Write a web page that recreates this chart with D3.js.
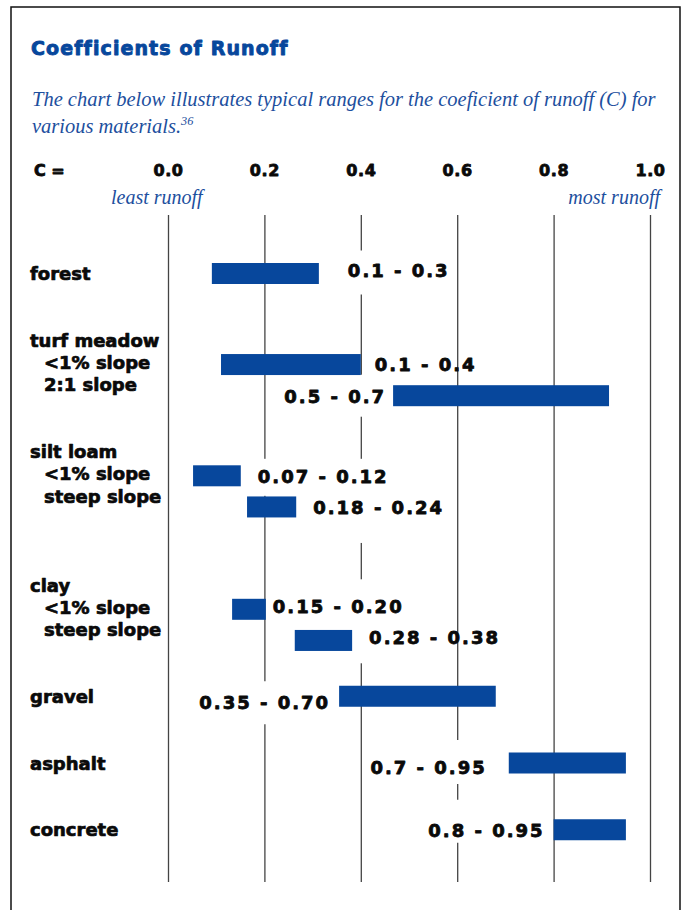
<!DOCTYPE html>
<html>
<head>
<meta charset="utf-8">
<script src="https://cdn.jsdelivr.net/npm/d3@7"></script>
<style>
  body { margin: 0; background: #fff; }
  svg { display: block; }
  .heavy { font-family: 'DejaVu Sans', sans-serif; font-weight: bold; stroke-linejoin: round; }
</style>
</head>
<body>
<svg id="chart" width="685" height="910"></svg>
<script>
// Chart data
var groups = ["forest", "turf meadow", "silt loam", "clay", "gravel", "asphalt", "concrete"];
var subLabels = [[], ["<1% slope", "2:1 slope"], ["<1% slope", "steep slope"], ["<1% slope", "steep slope"], [], [], []];
var barGroup = [0, 1, 1, 2, 2, 3, 3, 4, 5, 6];
var barSub = [-1, 0, 1, 0, 1, 0, 1, -1, -1, -1];
var barLow = [0.091, 0.11, 0.467, 0.052, 0.164, 0.133, 0.263, 0.355, 0.707, 0.80];
var barHigh = [0.313, 0.40, 0.915, 0.151, 0.266, 0.203, 0.382, 0.68, 0.95, 0.95];
var barLabels = ["0.1 - 0.3", "0.1 - 0.4", "0.5 - 0.7", "0.07 - 0.12", "0.18 - 0.24", "0.15 - 0.20", "0.28 - 0.38", "0.35 - 0.70", "0.7 - 0.95", "0.8 - 0.95"];
var tickValues = [0, 0.2, 0.4, 0.6, 0.8, 1.0];
var tickLabels = ["0.0", "0.2", "0.4", "0.6", "0.8", "1.0"];

// Layout (line slots, label placement, white boxes behind labels)
var groupLine = [0, 3, 8, 14, 19, 22, 25];
var subLine = [0.8, 2.2];
var labelSide = ["right", "right", "left", "right", "right", "right", "right", "left", "left", "left"];
var labelGap = [29, 14, 9, 17, 17, 7, 17, 11, 24, 11];
var labelDy = [-3, 0, 1, 1, 1, -2, -2, 7, 5, 1];
var maskPad = [[26, 18], null, [28, 14], [24, 13], [27, 29], [34, 50], null, [28, 15], [34, 10], [37, 6]];

var blue = "#07479c";
var ink = "#0a0a0a";
var serif = "'Liberation Serif', 'DejaVu Serif', serif";

var svg = d3.select("#chart");

// Frame
svg.append("path")
    .attr("d", "M11,910V7H680V910")
    .attr("fill", "none")
    .attr("stroke", "#111")
    .attr("stroke-width", 1.5);

// Title
svg.append("text")
    .attr("class", "heavy")
    .attr("x", 31).attr("y", 55)
    .attr("fill", blue).attr("stroke", blue).attr("stroke-width", 0.9)
    .style("font-size", "19px").style("letter-spacing", "1.1px")
    .text("Coefficients of Runoff");

// Subtitle, sized so the first line spans the box
var sub = svg.append("text")
    .attr("fill", "#1d4f9e")
    .style("font-family", serif).style("font-style", "italic")
    .style("font-size", "20px");
var line1 = sub.append("tspan").attr("x", 32).attr("y", 106)
    .text("The chart below illustrates typical ranges for the coeficient of runoff  (C) for");
var fs = 20 * 624 / line1.node().getComputedTextLength();
sub.style("font-size", fs + "px");
sub.append("tspan").attr("x", 32).attr("y", 133).text("various materials.");
sub.append("tspan").attr("dy", -8).style("font-size", (fs * 0.6) + "px").text("36");

// Scales
var x = d3.scaleLinear().domain([0, 1]).range([168, 650]);
var yLine = d3.scaleLinear().domain([0, 1]).range([280, 302.25]);

function barCenter(i) {
    var g = groupLine[barGroup[i]];
    return barSub[i] < 0 ? yLine(g) - 6.5 : yLine(g + subLine[barSub[i]]);
}

// Axis labels
svg.append("text")
    .attr("class", "heavy")
    .attr("x", 34).attr("y", 176)
    .attr("fill", ink).attr("stroke", ink).attr("stroke-width", 0.8)
    .style("font-size", "16px")
    .text("C =");

var tickAxis = svg.append("g")
    .attr("transform", "translate(0,176)")
    .call(d3.axisTop(x).tickValues(tickValues).tickSize(0).tickPadding(0)
        .tickFormat(function (d, i) { return tickLabels[i]; }));
tickAxis.select(".domain").remove();
tickAxis.selectAll("text")
    .attr("class", "heavy")
    .attr("fill", ink).attr("stroke", ink).attr("stroke-width", 0.8)
    .style("font-size", "16px").style("letter-spacing", "0.6px");

svg.append("text")
    .attr("x", 111).attr("y", 204)
    .attr("fill", "#1d4f9e")
    .style("font-family", serif).style("font-style", "italic").style("font-size", "20px")
    .text("least runoff");
svg.append("text")
    .attr("x", 660).attr("y", 204)
    .attr("text-anchor", "end")
    .attr("fill", "#1d4f9e")
    .style("font-family", serif).style("font-style", "italic").style("font-size", "20px")
    .text("most runoff");

// Grid lines
var grid = svg.append("g")
    .attr("transform", "translate(0,215)")
    .call(d3.axisBottom(x).tickValues(tickValues).tickSize(667).tickFormat(""));
grid.select(".domain").remove();
grid.selectAll("line").attr("stroke", "#444").attr("stroke-width", 1.3);

var maskG = svg.append("g");
var barG = svg.append("g");
var labelG = svg.append("g");

// Category labels
var groupG = labelG.selectAll(".group")
    .data(groups)
    .enter().append("g")
    .attr("class", "group");
groupG.append("text")
    .attr("class", "heavy")
    .attr("x", 30)
    .attr("y", function (d, i) { return yLine(groupLine[i]); })
    .attr("fill", ink).attr("stroke", ink).attr("stroke-width", 0.7)
    .style("font-size", "18px")
    .text(function (d) { return d; });
groupG.each(function (d, i) {
    d3.select(this).selectAll(".sub")
        .data(subLabels[i])
        .enter().append("text")
        .attr("class", "heavy sub")
        .attr("x", 44)
        .attr("y", function (s, k) { return yLine(groupLine[i] + 1 + k); })
        .attr("fill", ink).attr("stroke", ink).attr("stroke-width", 0.7)
        .style("font-size", "18px")
        .text(function (s) { return s; });
});

// Bars
var idx = d3.range(barLabels.length);
barG.selectAll("rect")
    .data(idx)
    .enter().append("rect")
    .attr("x", function (i) { return x(barLow[i]); })
    .attr("width", function (i) { return x(barHigh[i]) - x(barLow[i]); })
    .attr("y", function (i) { return barCenter(i) - 10.5; })
    .attr("height", 21)
    .attr("fill", blue);

// Range labels
var ls = 2.0;
var vals = labelG.selectAll(".val")
    .data(idx)
    .enter().append("text")
    .attr("class", "heavy val")
    .attr("x", function (i) {
        return labelSide[i] == "right" ? x(barHigh[i]) + labelGap[i] : x(barLow[i]) - labelGap[i] + ls;
    })
    .attr("y", function (i) { return barCenter(i) + 6 + labelDy[i]; })
    .attr("text-anchor", function (i) { return labelSide[i] == "right" ? "start" : "end"; })
    .attr("fill", ink).attr("stroke", ink).attr("stroke-width", 0.8)
    .style("font-size", "18px").style("letter-spacing", ls + "px")
    .text(function (i) { return barLabels[i]; });

// White boxes that break the grid lines behind labels
vals.each(function (i) {
    if (!maskPad[i]) return;
    var bb = this.getBBox();
    var base = +d3.select(this).attr("y");
    maskG.append("rect")
        .attr("x", bb.x - 3)
        .attr("width", bb.width + 6)
        .attr("y", base - maskPad[i][0])
        .attr("height", maskPad[i][0] + maskPad[i][1])
        .attr("fill", "#fff");
});
</script>
</body>
</html>
